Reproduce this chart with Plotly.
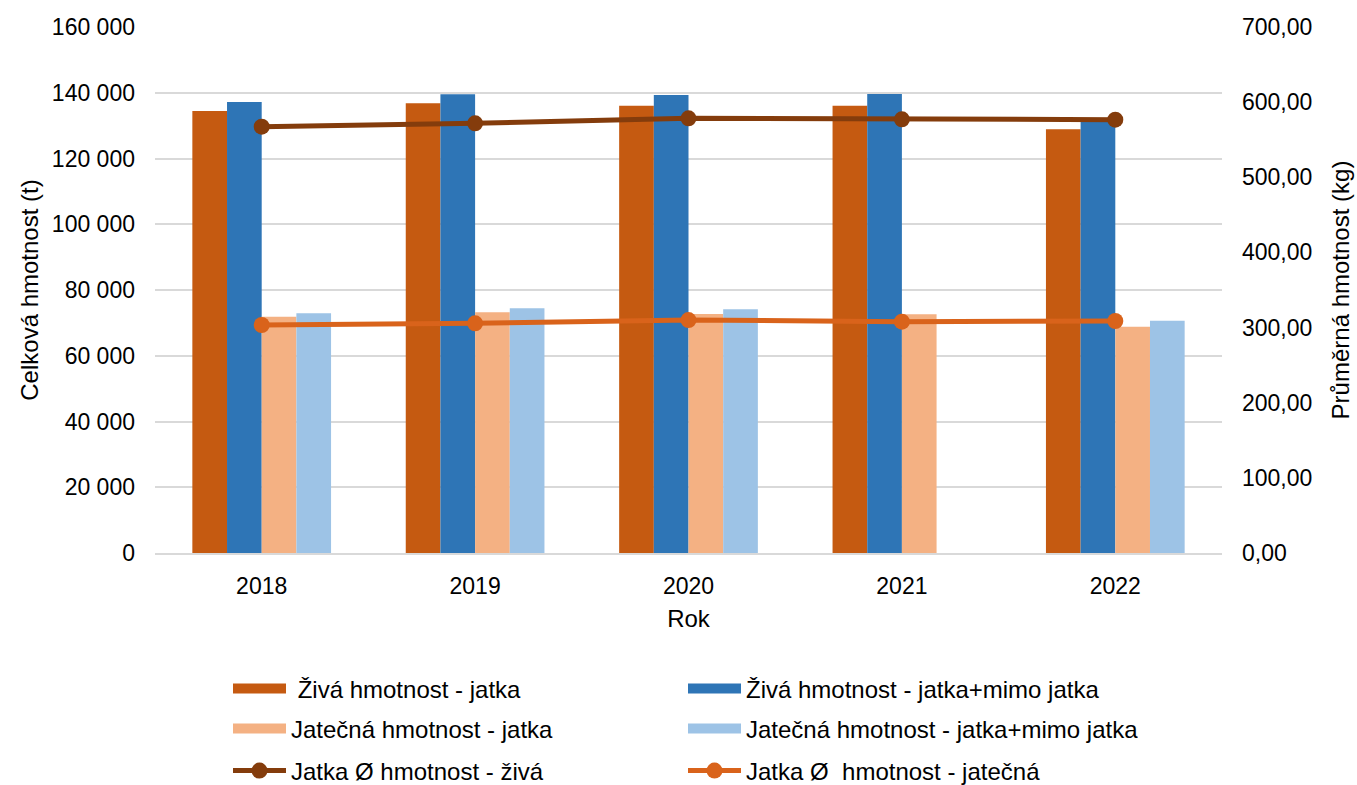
import plotly.graph_objects as go

years = ["2018", "2019", "2020", "2021", "2022"]
ziva_jatka = [134450, 136790, 136070, 136070, 128870]
ziva_vse = [137190, 139530, 139320, 139620, 131300]
jatecna_jatka = [71880, 73210, 72700, 72600, 68840]
jatecna_vse = [72900, 74420, 74120, None, 70670]
prumer_ziva = [567.3, 571.8, 578.4, 577.1, 576.7]
prumer_jatecna = [303.4, 305.6, 310.0, 307.9, 308.7]

names = [" Živá hmotnost - jatka", "Živá hmotnost - jatka+mimo jatka",
         "Jatečná hmotnost - jatka", "Jatečná hmotnost - jatka+mimo jatka",
         "Jatka Ø hmotnost - živá", "Jatka Ø  hmotnost - jatečná"]

FONT = "Arial, Liberation Sans, sans-serif"
fig = go.Figure()
bar_series = [ziva_jatka, ziva_vse, jatecna_jatka, jatecna_vse]
bar_colors = ["#C55A11", "#2E75B6", "#F4B183", "#9DC3E6"]
legends = ["legend", "legend", "legend2", "legend2"]
for vals, col, nm in zip(bar_series, bar_colors, names[:4]):
    fig.add_trace(go.Bar(x=years, y=vals, name=nm, marker_color=col,
                         marker_line_width=0, showlegend=False))

line_colors = ["#843C0C", "#D9631B"]
for vals, col, nm in zip([prumer_ziva, prumer_jatecna], line_colors, names[4:]):
    fig.add_trace(go.Scatter(x=years, y=vals, name=nm, yaxis="y2", mode="lines+markers",
                             line=dict(color=col, width=5),
                             marker=dict(color=col, size=16), legend="legend3"))

# legend swatches for the bar series (wide rectangles like the original)
for col, nm, lg in zip(bar_colors, names[:4], legends):
    fig.add_trace(go.Scatter(x=[None], y=[None], name=nm, mode="lines",
                             line=dict(color=col, width=14), legend=lg,
                             hoverinfo="skip"))

leg_common = dict(orientation="h", x=228 / 1357, xanchor="left", yanchor="middle",
                  xref="container", yref="container",
                  font=dict(family=FONT, size=24, color="#000000"),
                  itemwidth=53, entrywidth=387, bgcolor="rgba(0,0,0,0)",
                  traceorder="normal", itemclick=False, borderwidth=0)

fig.update_layout(
    width=1357, height=785,
    margin=dict(l=155, r=135, t=27, b=232),
    plot_bgcolor="white", paper_bgcolor="white",
    separators=", ",
    barmode="group", bargap=0.35, bargroupgap=0,
    font=dict(family=FONT, size=23, color="#000000"),
    showlegend=True,
    legend=dict(leg_common, y=1 - 689 / 785),
    legend2=dict(leg_common, y=1 - 729 / 785),
    legend3=dict(leg_common, y=1 - 771 / 785),
    xaxis=dict(title=dict(text="Rok", font=dict(size=24), standoff=12),
               showline=True, linecolor="#d9d9d9", linewidth=1.5,
               tickfont=dict(size=23), ticks="", showgrid=False,
               automargin=False, ticklabelstandoff=12),
    yaxis=dict(title=dict(text="Celková hmotnost (t)", font=dict(size=24), standoff=6),
               range=[0, 160000], dtick=20000, tickformat=",d",
               gridcolor="#d9d9d9", gridwidth=1.5, zeroline=False,
               tickfont=dict(size=23), ticks="", ticklabelstandoff=19,
               automargin=False),
    yaxis2=dict(title=dict(text="Průměrná hmotnost (kg)", font=dict(size=24), standoff=20),
                overlaying="y", side="right", range=[0, 700], dtick=100,
                tickformat=",.2f", showgrid=False, zeroline=False,
                tickfont=dict(size=23), ticks="", ticklabelstandoff=19,
                automargin=False),
)

fig.write_html("out.html", config={"displayModeBar": False},
               post_script="document.body.style.margin='0px';")
